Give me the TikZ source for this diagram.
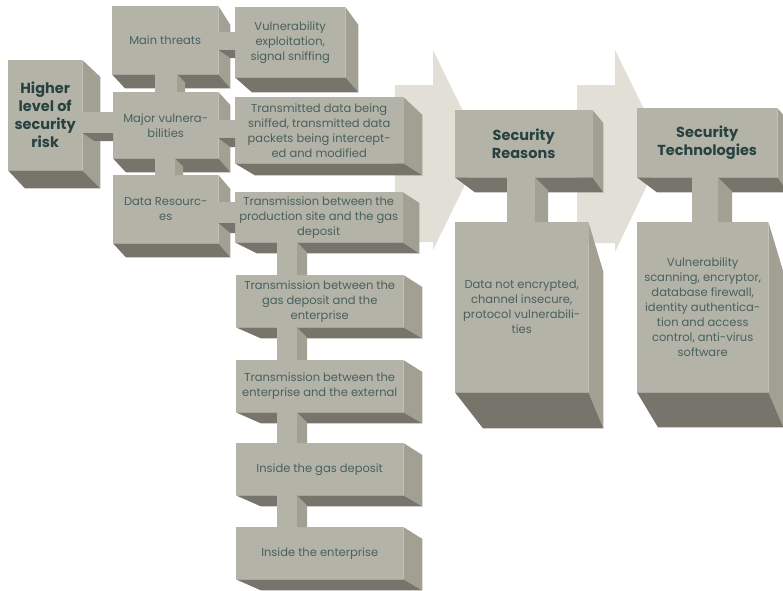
\documentclass[tikz,border=0pt]{standalone}
\usepackage{fontspec}
\setmainfont{Poppins}
\usetikzlibrary{calc}

\definecolor{boxfront}{RGB}{180,179,167}
\definecolor{boxside}{RGB}{162,160,147}
\definecolor{boxdark}{RGB}{118,116,107}
\definecolor{arrowfill}{RGB}{225,223,214}
\definecolor{txt}{RGB}{74,96,95}
\definecolor{ttl}{RGB}{40,66,65}

\tikzset{
	front/.style={fill=boxfront, inner sep=0pt, anchor=north west, align=center, text=txt, font=\fontsize{11.5}{15}\selectfont},
	title/.style={front, text=ttl, font=\fontsize{14.5}{18}\selectfont\bfseries},
	side/.style={fill=boxside},
	under/.style={fill=boxdark},
	bar/.style={fill=boxfront},
	backarrow/.style={fill=arrowfill}
}

% right and bottom faces of a block: node, right dx/dy, bottom dx/dy
\newcommand{\boxsides}[5]{
	\fill[side] (#1.north east) -- ++(#2,#3) -- ($(#1.south east)+(#2,#5)$) -- (#1.south east) -- cycle;
	\fill[under] (#1.south west) -- ++(#4,#5) -- ($(#1.south east)+(#2,#5)$) -- (#1.south east) -- cycle;
}
% vertical link: upper, lower, x from, x to, side width
\newcommand{\vlink}[5]{
	\fill[bar] (#3,0 |- #1.south) rectangle (#4,0 |- #2.north);
	\fill[side] (#4,0 |- #1.south) -- ++(#5,#5) -- (#4+#5,0 |- #2.north) -- (#4,0 |- #2.north) -- cycle;
}
% horizontal link: left, right, y from, y to, depth
\newcommand{\hlink}[5]{
	\fill[bar] (#1.east |- 0,#3) rectangle (#2.west |- 0,#4);
	\fill[under] (#1.east |- 0,#4) -- ++(12,#5) -- (#2.west |- 0,#4+#5) -- (#2.west |- 0,#4) -- cycle;
}

\begin{document}
\begin{tikzpicture}[x=1pt, y=-1pt]
	\useasboundingbox (0,0) rectangle (783,590);
	\clip (0,0) rectangle (783,590);

	% big arrows behind
	\fill[backarrow] (395,85) -- (433,85) -- (433,50) -- (482,150) -- (433,250) -- (433,242) -- (395,242) -- cycle;
	\fill[backarrow] (577,85) -- (615,85) -- (615,50) -- (664,150) -- (615,252) -- (615,243) -- (577,243) -- cycle;

	\node[title, minimum width=74pt, minimum height=110pt] (risk) at (8,60) {Higher\\level of\\security\\risk};
	\boxsides{risk}{18}{17}{17}{18}

	\node[front, minimum width=106pt, minimum height=68pt] (threats) at (112,6) {Main threats};
	\boxsides{threats}{12}{19}{13}{14}
	\node[front, minimum width=105pt, minimum height=66pt] (vuln) at (113,92) {Major vulnera-\\bilities};
	\boxsides{vuln}{12}{13}{13}{14}
	\node[front, minimum width=105pt, minimum height=68pt] (res) at (113,175) {Data Resourc-\\es};
	\boxsides{res}{12}{14}{13}{14}

	\node[front, minimum width=110pt, minimum height=70pt] (exploit) at (235,7) {Vulnerability\\exploitation,\\signal sniffing};
	\boxsides{exploit}{13}{18}{17}{15}
	\node[front, minimum width=168pt, minimum height=66pt] (sniff) at (235,97) {Transmitted data being\\sniffed, transmitted data\\packets being intercept-\\ed and modified};
	\boxsides{sniff}{19}{18}{20}{12}
	\node[front, minimum width=167pt, minimum height=50pt] (trans1) at (235,192) {Transmission between the\\production site and the gas\\deposit};
	\boxsides{trans1}{17}{11}{22}{11}
	\foreach \n/\y/\t in {trans2/275/{Transmission between the\\gas deposit and the\\enterprise}, trans3/360/{Transmission between the\\enterprise and the external}, inside1/443/{Inside the gas deposit}, inside2/527/{Inside the enterprise}}{
		\node[front, minimum width=167pt, minimum height=52pt] (\n) at (236,\y) {\t};
		\boxsides{\n}{19}{12}{25}{11}
	}

	\node[title, minimum width=137pt, minimum height=67pt] (reason) at (455,110) {Security\\Reasons};
	\boxsides{reason}{11}{13}{20}{15}
	\node[front, minimum width=133pt, minimum height=170pt] (reasontxt) at (455,222) {Data not encrypted,\\channel insecure,\\protocol vulnerabili-\\ties};
	\boxsides{reasontxt}{15}{50}{28}{36}

	\node[title, minimum width=140pt, minimum height=69pt] (tech) at (637,108) {Security\\Technologies};
	\boxsides{tech}{11}{13}{20}{15}
	\node[front, minimum width=131pt, minimum height=170pt] (techtxt) at (637,222) {Vulnerability\\scanning, encryptor,\\database firewall,\\identity authentica-\\tion and access\\control, anti-virus\\software};
	\boxsides{techtxt}{15}{50}{21}{35}

	% links between blocks
	\hlink{risk}{vuln}{112}{133}{8}
	\hlink{threats}{exploit}{32}{50}{8}
	\hlink{vuln}{sniff}{120}{138}{9}
	\hlink{res}{trans1}{202}{223}{10}
	\vlink{threats}{vuln}{155}{177}{8}
	\vlink{vuln}{res}{155}{175}{8}
	\foreach \a/\b in {trans1/trans2, trans2/trans3, trans3/inside1, inside1/inside2}{
		\vlink{\a}{\b}{277}{297}{10}
	}
	\vlink{reason}{reasontxt}{507}{535}{13}
	\vlink{tech}{techtxt}{692}{718}{14}
\end{tikzpicture}
\end{document}
